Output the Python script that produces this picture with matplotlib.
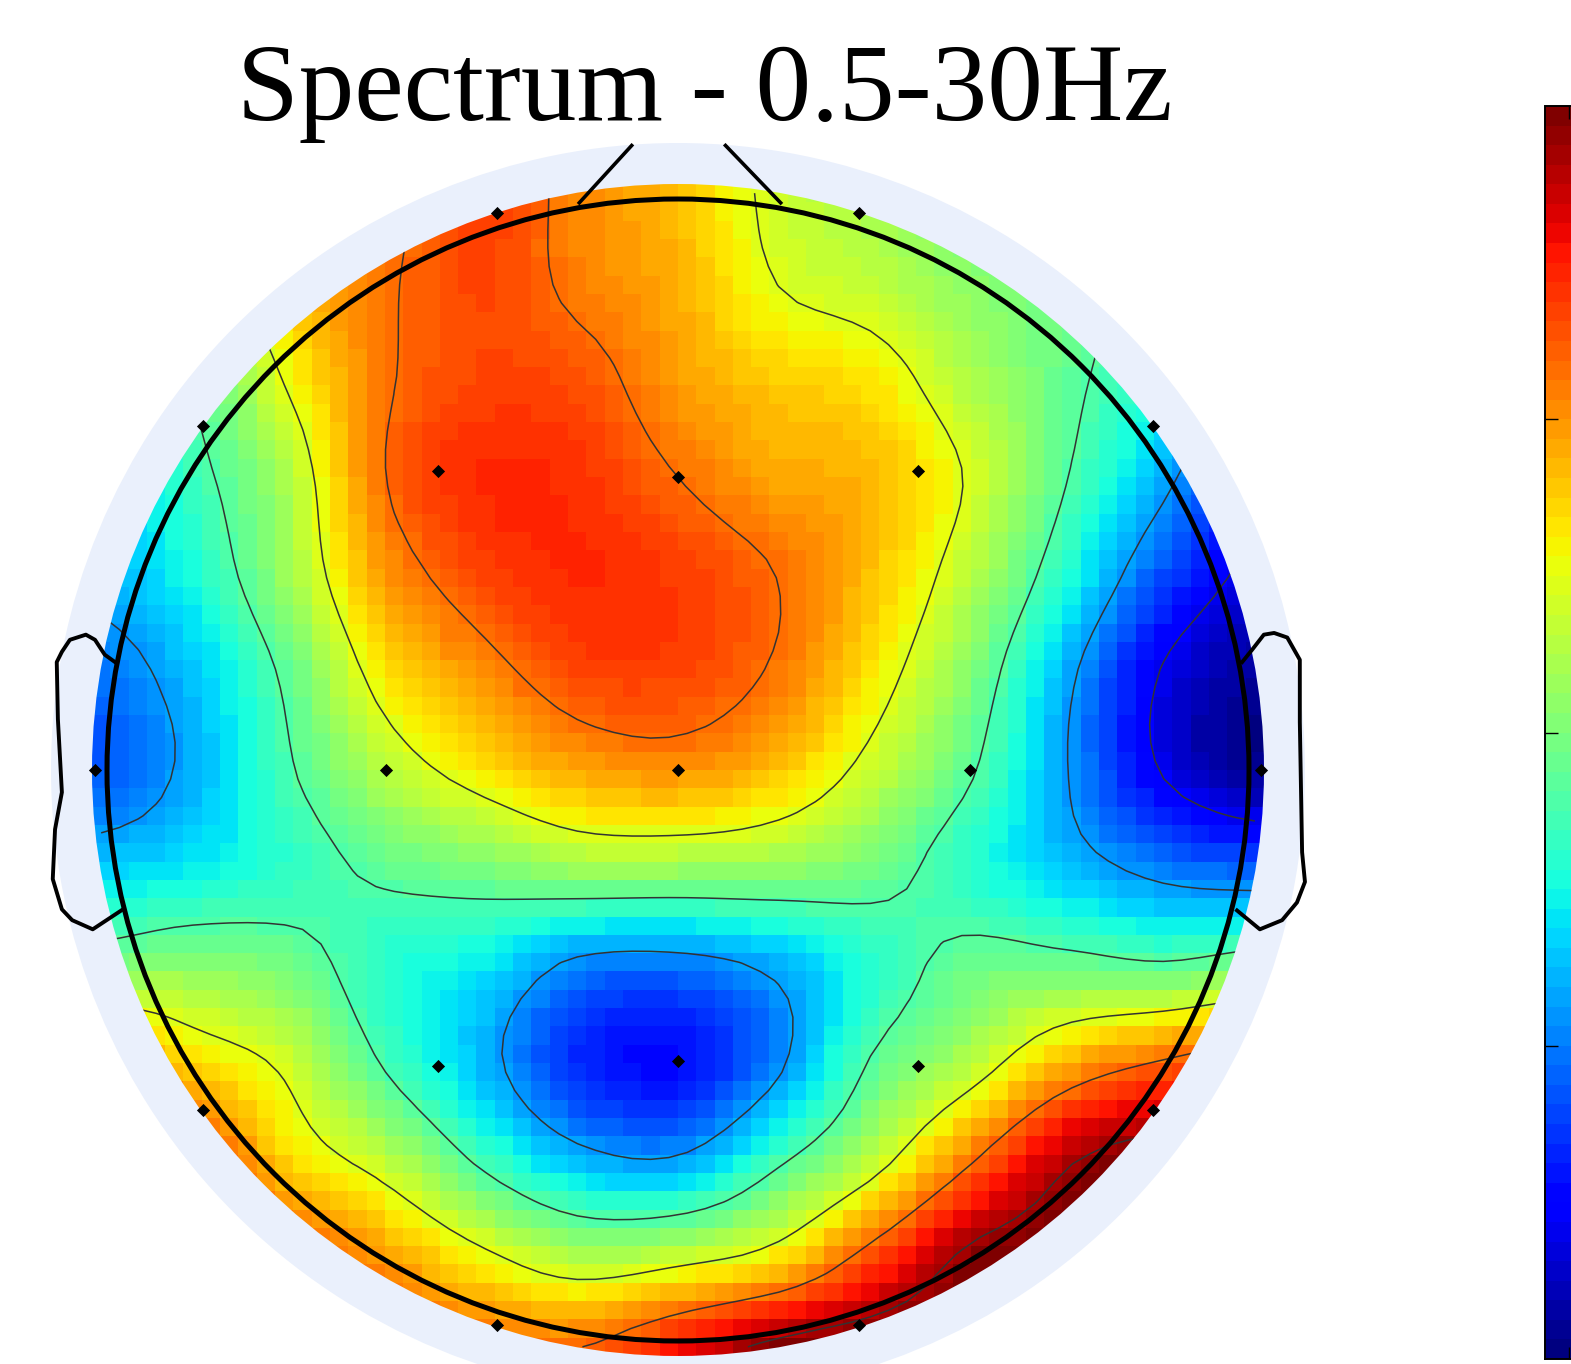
import numpy as np
import matplotlib
matplotlib.use('Agg')
import matplotlib.pyplot as plt
from matplotlib.patches import Circle

# sensor positions, in head radii
sensor_names = ['Fp1', 'Fp2', 'F7', 'F3', 'Fz', 'F4', 'F8', 'T3', 'C3', 'Cz', 'C4', 'T4',
                'T5', 'P3', 'Pz', 'P4', 'T6', 'O1', 'O2']
sensor_x = [-0.3175, 0.3175, -0.832, -0.421, 0, 0.421, 0.832, -1.021, -0.512, 0, 0.512, 1.021,
            -0.832, -0.421, 0, 0.421, 0.832, -0.3175, 0.3175]
sensor_y = [0.975, 0.975, 0.602, 0.523, 0.514, 0.523, 0.602, 0, 0, 0, 0, 0,
            -0.596, -0.518, -0.509, -0.518, -0.596, -0.972, -0.972]

# spectrum values (0 = bottom of colorbar, 1 = top), 13 x 13 samples, front to back
map_values = [
    [.72, .74, .75, .77, .84, .76, .70, .60, .55, .50, .47, .42, .35],
    [.65, .55, .70, .78, .83, .77, .72, .62, .58, .52, .48, .40, .30],
    [.45, .46, .63, .78, .83, .82, .74, .69, .66, .56, .47, .37, .22],
    [.32, .42, .56, .79, .86, .85, .79, .73, .71, .61, .45, .30, .14],
    [.30, .38, .54, .74, .83, .86, .84, .79, .70, .57, .39, .20, .08],
    [.24, .32, .47, .66, .76, .83, .83, .78, .66, .51, .30, .10, .03],
    [.21, .30, .44, .57, .66, .73, .75, .70, .59, .46, .28, .10, .02],
    [.33, .36, .41, .47, .50, .54, .54, .53, .49, .40, .32, .25, .22],
    [.50, .52, .49, .40, .36, .26, .25, .30, .40, .48, .48, .46, .50],
    [.80, .68, .60, .44, .31, .17, .14, .26, .46, .57, .72, .80, .85],
    [.90, .85, .68, .58, .43, .31, .29, .43, .58, .78, .95, 1.0, 1.0],
    [.90, .90, .82, .74, .64, .56, .59, .66, .83, .98, 1.0, 1.0, 1.0],
    [.85, .85, .85, .82, .80, .80, .90, 1.0, 1.02, 1.0, 1.0, 1.0, 1.0],
]
contour_levels = [0.11, 0.28, 0.45, 0.62, 0.79, 0.96]
colorbar_ticks = [0.25, 0.5, 0.75]

# outlines in head radii
left_ear_x = [-0.986, -1.004, -1.021, -1.037, -1.065, -1.079, -1.088, -1.086, -1.079, -1.091, -1.095,
              -1.079, -1.061, -1.025, -0.972]
left_ear_y = [0.189, 0.202, 0.228, 0.237, 0.228, 0.207, 0.189, 0.089, -0.039, -0.104, -0.191,
              -0.244, -0.263, -0.279, -0.244]
right_ear_x = [0.988, 1.005, 1.026, 1.044, 1.067, 1.089, 1.089, 1.093, 1.098, 1.084, 1.058, 1.019, 0.979]
right_ear_y = [0.189, 0.21, 0.237, 0.24, 0.232, 0.193, 0.084, -0.144, -0.196, -0.232, -0.263, -0.279, -0.246]
nose_left_x = [-0.175, -0.079]
nose_right_x = [0.182, 0.081]
nose_y = [0.991, 1.096]


# catmull-rom resampling of the read values onto the fine map cells
def resample_1d(values, pos):
    values = np.asarray(values)
    i = np.clip(np.floor(pos).astype(int), 0, len(values) - 2)
    t = pos - i
    p0 = values[np.clip(i - 1, 0, None)]
    p1 = values[i]
    p2 = values[i + 1]
    p3 = values[np.clip(i + 2, None, len(values) - 1)]
    return 0.5 * (2 * p1 + (p2 - p0) * t + (2 * p0 - 5 * p1 + 4 * p2 - p3) * t ** 2
                  + (3 * p1 - p0 - 3 * p2 + p3) * t ** 3)


# pixels of the page
cx, cy, head_px = 678, 770, 571

radius_map = 586 / head_px
n_cells = 64
cell_centers = (np.arange(n_cells) + 0.5) / n_cells * 2 * radius_map - radius_map
coarse_step = 97.5 / head_px
pos = cell_centers / coarse_step + 6

coarse = np.array(map_values)[::-1]  # lowest y first
rows = np.array([resample_1d(r, pos) for r in coarse])
fine = np.array([resample_1d(rows[:, j], pos) for j in range(n_cells)]).T

fig = plt.figure(figsize=(15.71, 13.64), dpi=100)
ax = fig.add_axes([0, 0, 1, 1])

ax.add_patch(Circle((0, 0), 627 / head_px, color='#eaf0fc', lw=0, zorder=1))

im = ax.imshow(fine, cmap=plt.get_cmap('jet', 64), vmin=0, vmax=1, origin='lower', zorder=2,
               extent=[-radius_map, radius_map, -radius_map, radius_map],
               interpolation='nearest', aspect='equal')
ax.set_xlim(-cx / head_px, (1571 - cx) / head_px)
ax.set_ylim((cy - 1364) / head_px, cy / head_px)
ax.axis('off')
im.set_clip_path(Circle((0, 0), radius_map, transform=ax.transData))

cs = ax.contour(cell_centers, cell_centers, fine, levels=contour_levels, colors='#333333',
                linewidths=1.1, linestyles='solid', zorder=3)
cs.set_clip_path(Circle((0, 0), radius_map, transform=ax.transData))

ax.add_patch(Circle((0, 0), 1.0, fill=False, ec='black', lw=3.6, zorder=4))
ax.plot(left_ear_x, left_ear_y, color='black', lw=2.8, zorder=4)
ax.plot(right_ear_x, right_ear_y, color='black', lw=2.8, zorder=4)
ax.plot(nose_left_x, nose_y, color='black', lw=2.6, zorder=4, solid_capstyle='butt')
ax.plot(nose_right_x, nose_y, color='black', lw=2.6, zorder=4, solid_capstyle='butt')

ax.scatter(sensor_x, sensor_y, marker='D', s=45, color='black', lw=0, zorder=5)

fig.text(705 / 1571, 1 - 120 / 1364, 'Spectrum - 0.5-30Hz', family='Liberation Serif', fontsize=80,
         ha='center', va='baseline', color='black')

# colorbar runs off the right edge of the page
cax = fig.add_axes([1545 / 1571, (1364 - 1359) / 1364, 48 / 1571, 1253 / 1364])
cb = fig.colorbar(im, cax=cax, ticks=colorbar_ticks)
cax.yaxis.set_ticks_position('left')
cax.tick_params(axis='y', direction='in', length=9, width=1.0, labelleft=False, labelright=False)
cax.set_xticks([0.5])
cax.tick_params(axis='x', direction='in', length=9, width=1.0, top=True, bottom=True,
                labelbottom=False, labeltop=False)
cb.outline.set_linewidth(1.4)

fig.savefig('out.png', dpi=100)
